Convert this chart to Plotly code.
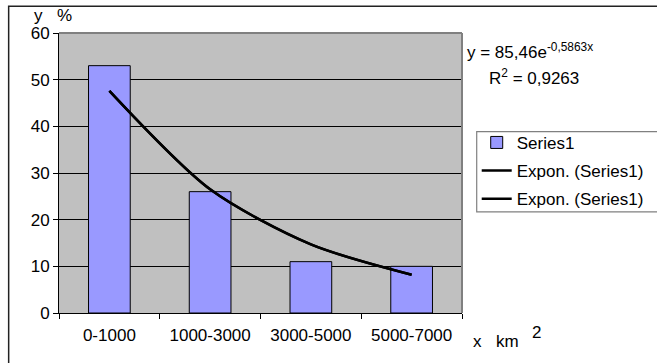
import plotly.graph_objects as go

# ---- data ----
categories = ["0-1000", "1000-3000", "3000-5000", "5000-7000"]
series1 = [53, 26, 11, 10]
trend_values = [47.6, 26.5, 14.7, 8.2]   # exponential trendline read at category centres
y_ticks = [0, 10, 20, 30, 40, 50, 60]
equation_text = "y = 85,46e<sup>-0,5863x</sup>"
r2_text = "R<sup>2</sup> = 0,9263"

W, H = 657, 363
L, R, T, B = 59.3, 195, 33.3, 50.3
PW = W - L - R
PH = H - T - B

def px(x):
    return (x - L) / PW

def py(y):
    return (H - B - y) / PH

FONT = "Liberation Sans, Arial, sans-serif"

fig = go.Figure()
fig.add_trace(go.Bar(
    x=categories, y=series1, name="Series1",
    marker=dict(color="#9999FF", line=dict(color="black", width=1)),
    legendgroup="a",
))
fig.add_trace(go.Scatter(
    x=categories, y=trend_values, name="Expon. (Series1)", mode="lines",
    line=dict(color="black", width=2.5, shape="spline", smoothing=0.8),
    legendgroup="b",
))
fig.add_trace(go.Scatter(
    x=categories, y=trend_values, name="Expon. (Series1)", mode="lines",
    line=dict(color="black", width=2.5, shape="spline", smoothing=0.8),
    legendgroup="c",
))

fig.update_layout(
    width=W, height=H,
    margin=dict(l=L, r=R, t=T, b=B, autoexpand=False),
    paper_bgcolor="white",
    plot_bgcolor="#C0C0C0",
    bargap=0.586,
    font=dict(family=FONT, size=17, color="black"),
    legend=dict(
        x=px(476.7), y=py(125), xanchor="left", yanchor="top",
        bgcolor="rgba(0,0,0,0)", borderwidth=0,
        font=dict(size=17), itemwidth=30, tracegroupgap=3,
        traceorder="grouped",
    ),
    showlegend=True,
)
fig.update_xaxes(
    type="category", showgrid=False, showline=True, linecolor="black", linewidth=1,
    ticks="outside", tickson="boundaries", ticklen=5, tickcolor="black",
    ticklabelstandoff=7,
)
fig.update_yaxes(
    range=[0, 60], tickvals=y_ticks, showgrid=True, gridcolor="black", gridwidth=1,
    zeroline=False, showline=True, linecolor="black", linewidth=1,
    ticks="outside", ticklen=5, tickcolor="black",
)

# plot-area border (grey top/right), legend frame and outer chart frame
fig.add_shape(type="line", xref="x domain", yref="y domain", x0=0, x1=1, y0=1, y1=1,
              line=dict(color="#808080", width=2), layer="above")
fig.add_shape(type="line", xref="x domain", yref="y domain", x0=1, x1=1, y0=0, y1=1,
              line=dict(color="#808080", width=2), layer="above")
fig.add_shape(type="rect", xref="paper", yref="paper",
              x0=px(476.7), x1=px(700), y0=py(211.7), y1=py(131.7),
              line=dict(color="#808080", width=1.2))
fig.add_shape(type="rect", xref="paper", yref="paper",
              x0=px(9), x1=px(700), y0=py(400), y1=py(6.5),
              line=dict(color="#222222", width=1.5))

def ann(text, x, y, xanchor="center", size=17):
    fig.add_annotation(text=text, xref="paper", yref="paper", x=px(x), y=py(y),
                       xanchor=xanchor, yanchor="middle", showarrow=False,
                       font=dict(size=size, family=FONT, color="black"))

ann("y", 39, 16)
ann("%", 65, 16)
ann("x", 477.5, 341)
ann("km", 507, 341)
ann("2", 536, 332)
ann(equation_text, 465, 51.5, xanchor="left")
ann(r2_text, 486.7, 77.5, xanchor="left")

fig.write_html("out.html", config={"displayModeBar": False},
               post_script="document.body.style.margin='0';")
